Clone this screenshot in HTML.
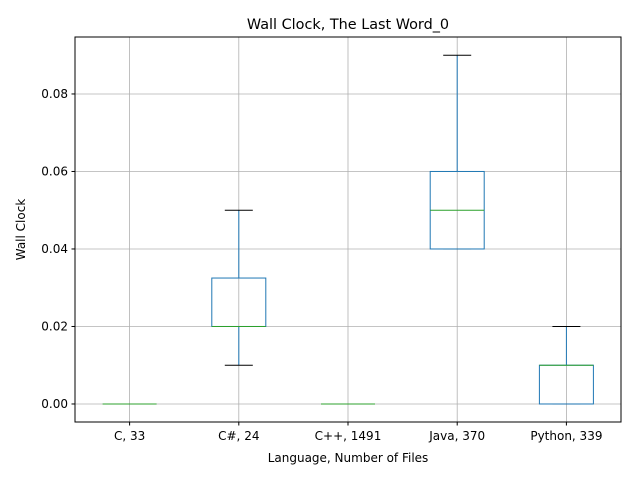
<!DOCTYPE html>
<html><head><meta charset="utf-8"><style>
body{margin:0;background:#fff;}
svg{font-family:"DejaVu Sans","Liberation Sans",sans-serif;}
</style></head><body>
<svg id="chart" width="640" height="480">
<rect width="640" height="480" fill="#fff"/>
<g id="grid"></g>
<g id="boxes"></g>
<rect x="75" y="37" width="546" height="385" fill="none" stroke="#000" stroke-width="1"/>
<g id="axes"></g>
<text x="348" y="29" text-anchor="middle" font-size="14.4">Wall Clock, The Last Word_0</text>
<text x="348" y="462" text-anchor="middle" font-size="12">Language, Number of Files</text>
<text transform="translate(25,229.5) rotate(-90)" text-anchor="middle" font-size="12">Wall Clock</text>
</svg>
<script>
const categories=["C, 33","C#, 24","C++, 1491","Java, 370","Python, 339"];
const mins=[0,0.01,0,0.04,0];
const q1s=[0,0.02,0,0.04,0];
const medians=[0,0.02,0,0.05,0.01];
const q3s=[0,0.0325,0,0.06,0.01];
const maxs=[0,0.05,0,0.09,0.02];
const yTicks=[0,0.02,0.04,0.06,0.08];
const yTickLabels=["0.00","0.02","0.04","0.06","0.08"];

const L=75,R=621,T=37,B=422;
const yMin=-0.00465,yMax=0.0947;
const y=v=>B-(v-yMin)/(yMax-yMin)*(B-T);
const step=(R-L)/categories.length;
const x=i=>L+step*(i+0.5);
const NS="http://www.w3.org/2000/svg";
function mk(tag,attrs,parent){const e=document.createElementNS(NS,tag);for(const k in attrs)e.setAttribute(k,attrs[k]);document.getElementById(parent).appendChild(e);return e;}

yTicks.forEach((v,i)=>{
 const g=mk("line",{x1:L,x2:R,y1:y(v),y2:y(v),stroke:"#b0b0b0","stroke-width":0.8},"grid");
 
 
 const t=mk("line",{x1:L-3.5,x2:L,y1:y(v),y2:y(v),stroke:"#000"},"axes");
 
 
 const tx=mk("text",{x:L-7,y:y(v)+4,"text-anchor":"end","font-size":12},"axes");
 tx.textContent=yTickLabels[i];
 
 
});
categories.forEach((c,i)=>{
 const cx=x(i);
 const g=mk("line",{x1:cx,x2:cx,y1:T,y2:B,stroke:"#b0b0b0","stroke-width":0.8},"grid");
 
 
 const t=mk("line",{x1:cx,x2:cx,y1:B,y2:B+3.5,stroke:"#000"},"axes");
 
 
 const tx=mk("text",{x:cx,y:B+18,"text-anchor":"middle","font-size":12},"axes");
 tx.textContent=c;
 
 
 const hw=27,cw=14;
 const w1=mk("line",{x1:cx,x2:cx,y1:y(q1s[i]),y2:y(mins[i]),stroke:"#1f77b4"},"boxes");
 
 
 const w2=mk("line",{x1:cx,x2:cx,y1:y(q3s[i]),y2:y(maxs[i]),stroke:"#1f77b4"},"boxes");
 
 
 const c1=mk("line",{x1:cx-cw,x2:cx+cw,y1:y(mins[i]),y2:y(mins[i]),stroke:"#000"},"boxes");
 
 
 const c2=mk("line",{x1:cx-cw,x2:cx+cw,y1:y(maxs[i]),y2:y(maxs[i]),stroke:"#000"},"boxes");
 
 
 const b=mk("rect",{x:cx-hw,y:y(q3s[i]),width:2*hw,height:Math.max(0,y(q1s[i])-y(q3s[i])),fill:"none",stroke:"#1f77b4"},"boxes");
 
 
 const m=mk("line",{x1:cx-hw,x2:cx+hw,y1:y(medians[i]),y2:y(medians[i]),stroke:"#2ca02c"},"boxes");
 
 
});
</script>
</body></html>
